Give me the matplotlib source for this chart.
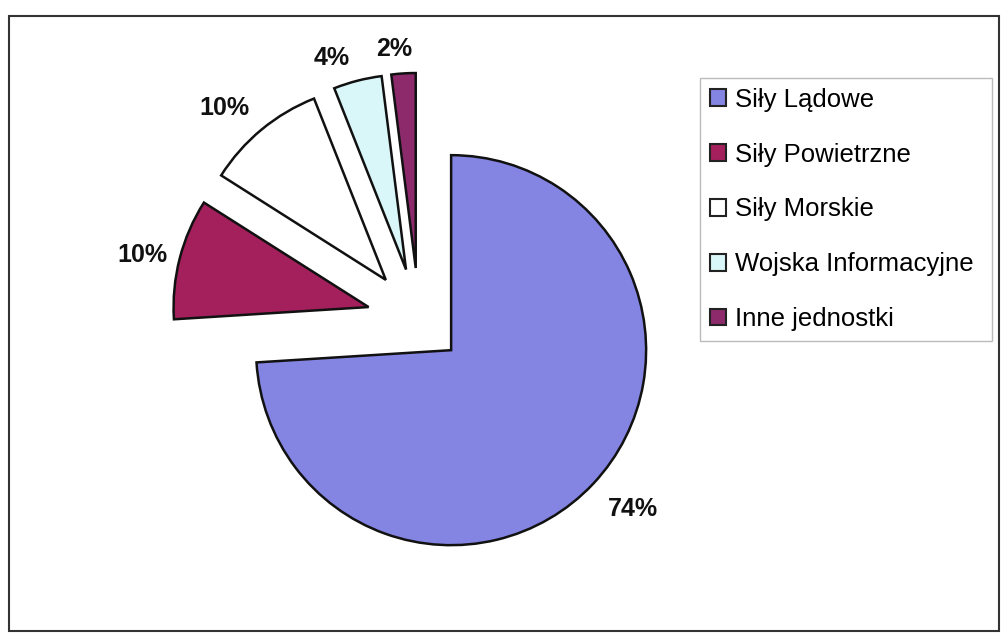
import matplotlib
matplotlib.use("Agg")
import numpy as np
import matplotlib.pyplot as plt
from matplotlib.patches import Rectangle

categories = ["Siły Lądowe", "Siły Powietrzne", "Siły Morskie",
              "Wojska Informacyjne", "Inne jednostki"]
values = [74, 10, 10, 4, 2]
colors = ["#8484e2", "#a3205c", "#ffffff", "#d9f6f8", "#8c2a6c"]
explode = [0.226, 0.267, 0.267, 0.267, 0.267]
label_dist = [1.236, 1.19, 1.21, 1.15, 1.13]     # radial distance of labels
label_shift = [2.0, 1.5, 3.5, 5.0, 2.0]          # angular nudge (deg)

plt.rcParams['font.family'] = ['Liberation Sans', 'DejaVu Sans']

W, H = 1001, 633
fig = plt.figure(figsize=(W / 100, H / 100), dpi=100)
ax = fig.add_axes([0, 0, 1, 1])

cx, cy, r = 419, 320, 195  # pixel geometry of pie
wedges, texts, autotexts = ax.pie(
    values, colors=colors, explode=explode, startangle=90, counterclock=False,
    autopct='%1.0f%%', pctdistance=1.16, radius=1,
    wedgeprops=dict(edgecolor='#111111', linewidth=1.8),
    textprops=dict(fontsize=18, fontweight='bold', color='#111111'))

for w, t, d, s in zip(wedges, autotexts, label_dist, label_shift):
    th = np.deg2rad((w.theta1 + w.theta2) / 2 + s)
    x0, y0 = w.center
    t.set_position((x0 + d * np.cos(th), y0 + d * np.sin(th)))

ax.set_xlim(-cx / r, (W - cx) / r)
ax.set_ylim(-(H - cy) / r, cy / r)
ax.set_aspect('auto')
ax.axis('off')

# outer chart frame
fig.patches.append(Rectangle((9 / W, 1 - 631 / H), (999 - 9) / W, (631 - 16) / H,
                             transform=fig.transFigure, fill=False,
                             edgecolor='#333333', linewidth=1.5))

leg = fig.legend(wedges, categories, loc='upper left', mode='expand',
                 bbox_to_anchor=(700 / W, 0, 292 / W, 1 - 78 / H), fontsize=18.5,
                 frameon=True, fancybox=False, edgecolor='#aaaaaa',
                 handlelength=0.62, handleheight=0.62, handletextpad=0.35,
                 labelspacing=1.2, borderpad=0.38, borderaxespad=0)
leg.get_frame().set_linewidth(1.0)
for h in leg.legend_handles:
    h.set_linewidth(1.5)
    h.set_edgecolor('#222222')

fig.savefig("out.png", dpi=100)
